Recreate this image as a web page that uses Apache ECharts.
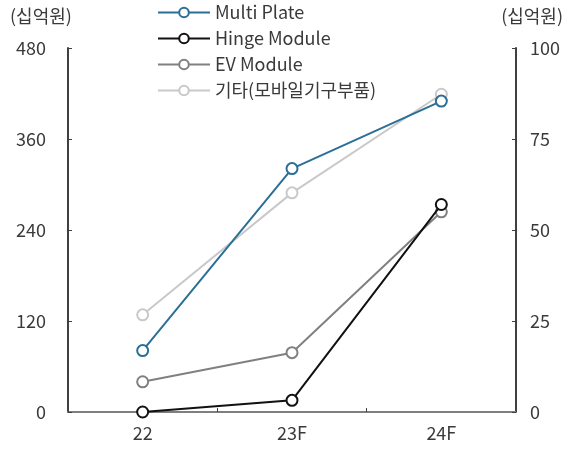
<!DOCTYPE html>
<html><head><meta charset="utf-8">
<script src="https://cdn.jsdelivr.net/npm/echarts@6/dist/echarts.min.js"></script>
<style>html,body{margin:0;padding:0;background:#fff}#c{width:567px;height:449px}</style>
</head><body><div id="c"></div>
<script>
const categories = ['22', '23F', '24F'];
const multiPlate = [81, 321, 410];      // left axis
const hingeModule = [0, 3.2, 57];       // right axis
const evModule = [8.3, 16.3, 55];       // right axis
const etc = [26.7, 60.2, 87.3];         // right axis
const leftTicks = { min: 0, max: 480, interval: 120 };
const rightTicks = { min: 0, max: 100, interval: 25 };
const unitLabel = '(십억원)';

const FONT = '"Noto Sans CJK KR", "Noto Sans", sans-serif';
const TXT = '#3a3a3a';
const FS = 18;
const chart = echarts.init(document.getElementById('c'));
function s(name, data, color, yIdx, z) {
  return {
    name, type: 'line', data, yAxisIndex: yIdx, z,
    symbol: 'emptyCircle', symbolSize: 11,
    lineStyle: { color, width: 2 },
    itemStyle: { color, borderColor: color, borderWidth: 2 },
    emphasis: { disabled: true }
  };
}
chart.setOption({
  animation: false,
  textStyle: { fontFamily: FONT },
  grid: { left: 68, right: 51, top: 48, bottom: 37, containLabel: false },
  legend: {
    orient: 'vertical', left: 152, top: -2, itemGap: 7,
    itemWidth: 52, itemHeight: 12,
    textStyle: { fontSize: FS, color: TXT, fontFamily: FONT, lineHeight: 19 },
    data: ['Multi Plate', 'Hinge Module', 'EV Module', '기타(모바일기구부품)']
  },
  xAxis: {
    type: 'category', data: categories, boundaryGap: true,
    axisLine: { lineStyle: { color: '#7f7f7f', width: 2 } },
    axisTick: { show: true, inside: true, length: 4, interval: 0, alignWithLabel: false, lineStyle: { color: '#404040' } },
    axisLabel: { fontSize: FS, color: TXT, margin: 12 }
  },
  yAxis: [
    { type: 'value', ...leftTicks, position: 'left',
      axisLine: { show: true, lineStyle: { color: '#404040', width: 2 } },
      axisTick: { show: true, inside: true, length: 4, lineStyle: { color: '#404040' } },
      splitLine: { show: false },
      axisLabel: { fontSize: FS, color: TXT, margin: 22 } },
    { type: 'value', ...rightTicks, position: 'right',
      axisLine: { show: true, lineStyle: { color: '#404040', width: 2 } },
      axisTick: { show: true, inside: true, length: 4, lineStyle: { color: '#404040' } },
      splitLine: { show: false },
      axisLabel: { fontSize: FS, color: TXT, margin: 14 } }
  ],
  graphic: [
    { type: 'text', left: 10, top: 7, style: { text: unitLabel, font: FS + 'px ' + FONT, fill: TXT } },
    { type: 'text', right: 4, top: 7, style: { text: unitLabel, font: FS + 'px ' + FONT, fill: TXT } }
  ],
  series: [
    s('기타(모바일기구부품)', etc, '#c9c9c9', 1, 2),
    s('EV Module', evModule, '#808080', 1, 3),
    s('Multi Plate', multiPlate, '#2b6f96', 0, 4),
    s('Hinge Module', hingeModule, '#111111', 1, 5)
  ]
});
</script></body></html>
